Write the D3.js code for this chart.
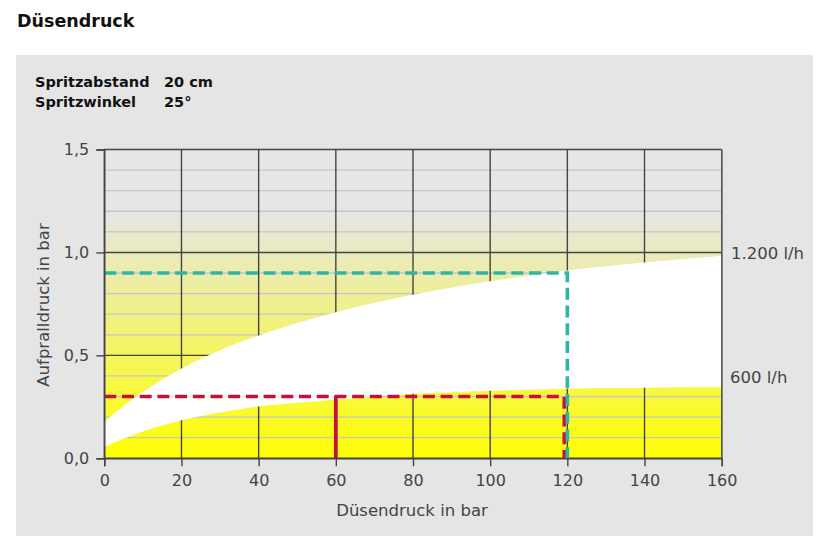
<!DOCTYPE html>
<html>
<head>
<meta charset="utf-8">
<script src="https://cdn.jsdelivr.net/npm/d3@7"></script>
<style>
  html, body { margin: 0; padding: 0; background: #ffffff; }
  svg { display: block; }
  text { font-family: "DejaVu Sans", sans-serif; }
</style>
</head>
<body>
<svg id="chart" width="830" height="555"></svg>
<script>
// ---- data ----
const xTicks = [0, 20, 40, 60, 80, 100, 120, 140, 160];
const yTicks = [0, 0.5, 1.0, 1.5];
const yMinor = [0.1, 0.2, 0.3, 0.4, 0.6, 0.7, 0.8, 0.9, 1.1, 1.2, 1.3, 1.4];
const flowX =      [0,     5,     10,    20,    30,    40,    50,    60,    70,    80,    90,    100,   110,   120,   130,   140,   150,   160];
const upper1200 =  [0.175, 0.255, 0.322, 0.436, 0.525, 0.597, 0.657, 0.710, 0.755, 0.795, 0.830, 0.860, 0.887, 0.912, 0.933, 0.951, 0.968, 0.984];
const lower600 =   [0.056, 0.095, 0.130, 0.185, 0.222, 0.252, 0.270, 0.285, 0.299, 0.313, 0.321, 0.328, 0.333, 0.338, 0.341, 0.343, 0.345, 0.346];
const teal1200 = [[0, 0.9], [120, 0.9], [120, 0]];
const red600 = [[0, 0.3], [119.2, 0.3], [119.2, 0]];
const redSolid = [[60, 0], [60, 0.3]];
const seriesLabels = [{text: "1.200 l/h", y: 1.0}, {text: "600 l/h", y: 0.4}];
const gradientTop = 1.2;

// ---- layout ----
const svg = d3.select("#chart");
const x = d3.scaleLinear().domain([0, 160]).range([104.3, 721.7]);
const y = d3.scaleLinear().domain([0, 1.5]).range([458.3, 149.5]);
const deLocale = d3.formatLocale({decimal: ",", thousands: ".", grouping: [3], currency: ["", "€"]});
const fmtY = deLocale.format(".1f");

// panel
svg.append("rect").attr("x", 16).attr("y", 55).attr("width", 797).attr("height", 481).attr("fill", "#e5e5e5");

// title texts
svg.append("text").attr("x", 17).attr("y", 27).attr("font-size", 17.5).attr("font-weight", "bold").attr("fill", "#111").text("Düsendruck");
svg.append("text").attr("x", 35).attr("y", 87).attr("font-size", 14.5).attr("font-weight", "bold").attr("fill", "#111").text("Spritzabstand");
svg.append("text").attr("x", 164).attr("y", 87).attr("font-size", 14.5).attr("font-weight", "bold").attr("fill", "#111").text("20 cm");
svg.append("text").attr("x", 35).attr("y", 106.5).attr("font-size", 14.5).attr("font-weight", "bold").attr("fill", "#111").text("Spritzwinkel");
svg.append("text").attr("x", 164).attr("y", 106.5).attr("font-size", 14.5).attr("font-weight", "bold").attr("fill", "#111").text("25°");

// gradient
const defs = svg.append("defs");
const grad = defs.append("linearGradient").attr("id", "bg").attr("gradientUnits", "userSpaceOnUse")
  .attr("x1", 0).attr("x2", 0).attr("y1", y(gradientTop)).attr("y2", y(0));
grad.append("stop").attr("offset", "0%").attr("stop-color", "#e6e6e6");
grad.append("stop").attr("offset", "100%").attr("stop-color", "#ffff00");

svg.append("rect").attr("x", x(0)).attr("y", y(1.5)).attr("width", x(160) - x(0)).attr("height", y(0) - y(1.5)).attr("fill", "#e6e6e6");
svg.append("rect").attr("x", x(0)).attr("y", y(gradientTop)).attr("width", x(160) - x(0)).attr("height", y(0) - y(gradientTop)).attr("fill", "url(#bg)");

// grid
const g = svg.append("g");
g.selectAll(".minor").data(yMinor).join("line")
  .attr("x1", x(0)).attr("x2", x(160)).attr("y1", d => y(d)).attr("y2", d => y(d))
  .attr("stroke", "#c6c6c6").attr("stroke-width", 1.3);
g.selectAll(".major").data(yTicks).join("line")
  .attr("x1", x(0)).attr("x2", x(160)).attr("y1", d => y(d)).attr("y2", d => y(d))
  .attr("stroke", "#444").attr("stroke-width", 1.4);
g.selectAll(".vert").data(xTicks).join("line")
  .attr("x1", d => x(d)).attr("x2", d => x(d)).attr("y1", y(0)).attr("y2", y(1.5))
  .attr("stroke", "#444").attr("stroke-width", 1.4);

// white band between curves
const band = flowX.map((v, i) => ({x: v, lo: lower600[i], hi: upper1200[i]}));
const area = d3.area().x(d => x(d.x)).y0(d => y(d.lo)).y1(d => y(d.hi)).curve(d3.curveMonotoneX);
svg.append("path").datum(band).attr("d", area).attr("fill", "#ffffff");

// frame lines visible above band
svg.append("line").attr("x1", x(160)).attr("x2", x(160)).attr("y1", y(0)).attr("y2", y(1.5)).attr("stroke", "#555").attr("stroke-width", 1.4);

// guide lines
const line = d3.line().x(d => x(d[0])).y(d => y(d[1]));
svg.append("path").datum(red600).attr("d", line).attr("fill", "none")
  .attr("stroke", "#c8103e").attr("stroke-width", 3.6).attr("stroke-dasharray", "12,5.7");
svg.append("path").datum(redSolid).attr("d", line).attr("fill", "none")
  .attr("stroke", "#c8103e").attr("stroke-width", 3.8);
svg.append("path").datum(teal1200).attr("d", line).attr("fill", "none")
  .attr("stroke", "#2db6a6").attr("stroke-width", 3.6).attr("stroke-dasharray", "12,5.7");

// axes
const yAxis = d3.axisLeft(y).tickValues(yTicks).tickFormat(fmtY).tickSize(8).tickPadding(7);
const ya = svg.append("g").attr("transform", `translate(${x(0)},0)`).call(yAxis);
const xAxis = d3.axisBottom(x).tickValues(xTicks).tickSize(8).tickPadding(8);
const xa = svg.append("g").attr("transform", `translate(0,${y(0)})`).call(xAxis);
[ya, xa].forEach(a => {
  a.select(".domain").attr("stroke", "#444").attr("stroke-width", 1.4);
  a.selectAll(".tick line").attr("stroke", "#444").attr("stroke-width", 1.4);
  a.selectAll(".tick text").attr("font-size", 16).attr("fill", "#444").attr("font-family", "DejaVu Sans");
});

// axis titles
svg.append("text").attr("x", 412).attr("y", 516).attr("text-anchor", "middle").attr("font-size", 16.5).attr("fill", "#444").text("Düsendruck in bar");
svg.append("text").attr("transform", `translate(49,305) rotate(-90)`).attr("text-anchor", "middle").attr("font-size", 16.5).attr("fill", "#444").text("Aufpralldruck in bar");

// series labels
svg.append("text").attr("x", 731).attr("y", 258.5).attr("font-size", 16.5).attr("fill", "#444").text(seriesLabels[0].text);
svg.append("text").attr("x", 730).attr("y", 382.5).attr("font-size", 16.5).attr("fill", "#444").text(seriesLabels[1].text);
</script>
</body>
</html>
